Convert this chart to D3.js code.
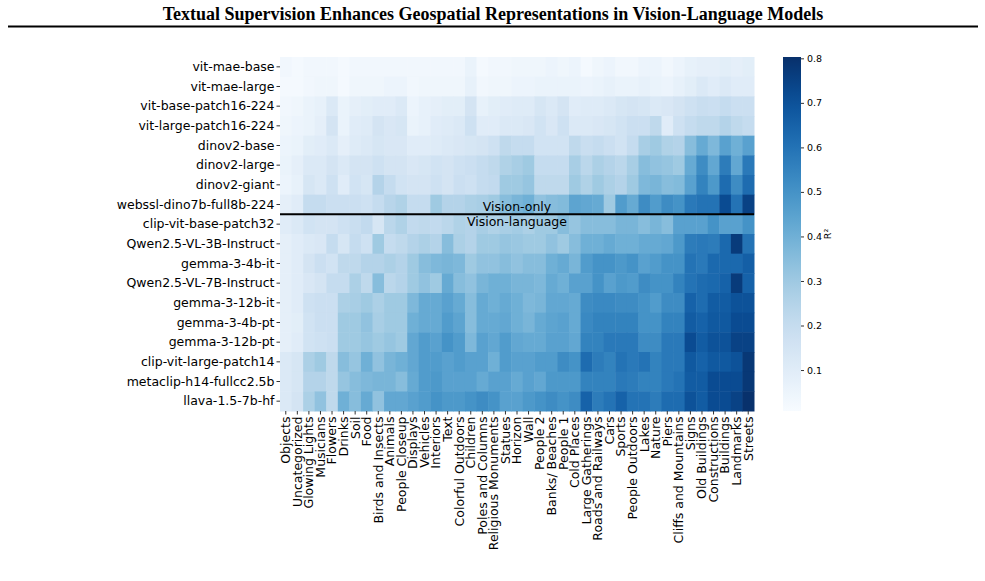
<!DOCTYPE html>
<html>
<head>
<meta charset="utf-8">
<script src="https://cdn.jsdelivr.net/npm/d3@7"></script>
<style>
  body { margin: 0; background: #fff; }
  text { font-family: "DejaVu Sans", sans-serif; }
</style>
</head>
<body>
<script>
// models (rows) and scene categories (columns)
const models = ["vit-mae-base", "vit-mae-large", "vit-base-patch16-224", "vit-large-patch16-224",
  "dinov2-base", "dinov2-large", "dinov2-giant", "webssl-dino7b-full8b-224",
  "clip-vit-base-patch32", "Qwen2.5-VL-3B-Instruct", "gemma-3-4b-it", "Qwen2.5-VL-7B-Instruct",
  "gemma-3-12b-it", "gemma-3-4b-pt", "gemma-3-12b-pt", "clip-vit-large-patch14",
  "metaclip-h14-fullcc2.5b", "llava-1.5-7b-hf"];

const categories = ["Objects", "Uncategorized", "Glowing Lights", "Musicians", "Flowers", "Drinks", "Soil",
  "Food", "Birds and Insects", "Animals", "People Closeup", "Displays", "Vehicles", "Interiors", "Text",
  "Colorful Outdoors", "Children", "Poles and Columns", "Religious Monuments", "Statues", "Horizon", "Wall",
  "People 2", "Banks/ Beaches", "People 1", "Cold Places", "Large Gatherings", "Roads and Railways", "Cars",
  "Sports", "People Outdoors", "Lakes", "Nature", "Piers", "Cliffs and Mountains", "Signs", "Old Buildings",
  "Constructions", "Buildings", "Landmarks", "Streets"];

// R² per model, one value per category
const r2 = [
  [0.03,0.02,0.03,0.03,0.03,0.02,0.03,0.03,0.03,0.03,0.03,0.03,0.03,0.03,0.03,0.03,0.06,0.02,0.03,0.03,0.04,0.04,0.04,0.05,0.04,0.05,0.02,0.04,0.05,0.03,0.03,0.05,0.05,0.03,0.05,0.07,0.08,0.08,0.09,0.08,0.09],
  [0.02,0.02,0.03,0.04,0.04,0.02,0.04,0.04,0.04,0.05,0.05,0.03,0.04,0.04,0.04,0.04,0.07,0.03,0.04,0.04,0.05,0.05,0.06,0.06,0.06,0.06,0.05,0.06,0.07,0.06,0.06,0.07,0.06,0.05,0.07,0.09,0.12,0.1,0.12,0.1,0.1],
  [0.03,0.04,0.06,0.07,0.12,0.06,0.08,0.09,0.1,0.1,0.12,0.05,0.07,0.08,0.09,0.09,0.15,0.07,0.09,0.1,0.11,0.11,0.14,0.12,0.15,0.1,0.11,0.11,0.12,0.14,0.15,0.14,0.12,0.13,0.15,0.17,0.19,0.18,0.2,0.18,0.18],
  [0.04,0.05,0.06,0.08,0.15,0.06,0.1,0.11,0.15,0.13,0.14,0.06,0.07,0.1,0.11,0.12,0.17,0.1,0.1,0.12,0.12,0.13,0.16,0.13,0.17,0.12,0.12,0.13,0.14,0.16,0.18,0.18,0.22,0.1,0.17,0.2,0.22,0.22,0.25,0.22,0.2],
  [0.05,0.06,0.09,0.1,0.12,0.08,0.11,0.12,0.14,0.13,0.13,0.1,0.1,0.11,0.12,0.13,0.14,0.15,0.17,0.22,0.2,0.2,0.16,0.16,0.16,0.22,0.19,0.2,0.18,0.16,0.2,0.28,0.3,0.26,0.25,0.35,0.42,0.37,0.45,0.4,0.45],
  [0.06,0.08,0.12,0.12,0.15,0.12,0.15,0.15,0.17,0.15,0.15,0.13,0.14,0.16,0.15,0.17,0.18,0.2,0.22,0.26,0.28,0.3,0.2,0.2,0.2,0.28,0.23,0.27,0.25,0.23,0.28,0.35,0.33,0.32,0.3,0.42,0.52,0.43,0.57,0.43,0.58],
  [0.05,0.07,0.14,0.12,0.17,0.1,0.16,0.14,0.25,0.2,0.16,0.15,0.15,0.17,0.15,0.18,0.17,0.2,0.21,0.3,0.3,0.32,0.22,0.22,0.22,0.3,0.26,0.3,0.27,0.25,0.3,0.37,0.38,0.35,0.36,0.45,0.55,0.48,0.62,0.52,0.62],
  [0.08,0.1,0.2,0.2,0.18,0.18,0.18,0.17,0.2,0.24,0.26,0.2,0.2,0.3,0.25,0.25,0.27,0.28,0.3,0.35,0.38,0.4,0.33,0.35,0.36,0.44,0.43,0.42,0.3,0.47,0.42,0.52,0.47,0.52,0.5,0.58,0.6,0.6,0.72,0.6,0.75],
  [0.1,0.12,0.16,0.15,0.15,0.17,0.19,0.21,0.14,0.23,0.26,0.21,0.22,0.21,0.23,0.26,0.25,0.28,0.26,0.28,0.29,0.27,0.3,0.3,0.35,0.32,0.35,0.35,0.35,0.38,0.38,0.35,0.38,0.35,0.45,0.45,0.45,0.5,0.45,0.45,0.5],
  [0.08,0.1,0.12,0.13,0.2,0.14,0.2,0.17,0.3,0.2,0.22,0.25,0.27,0.25,0.35,0.27,0.25,0.3,0.3,0.32,0.31,0.3,0.3,0.33,0.3,0.35,0.4,0.4,0.42,0.4,0.4,0.42,0.42,0.43,0.48,0.57,0.58,0.57,0.63,0.77,0.6],
  [0.08,0.1,0.15,0.18,0.16,0.22,0.22,0.25,0.25,0.27,0.25,0.3,0.35,0.37,0.38,0.37,0.3,0.33,0.33,0.35,0.33,0.35,0.35,0.4,0.42,0.38,0.47,0.5,0.5,0.48,0.5,0.45,0.47,0.5,0.5,0.6,0.58,0.63,0.63,0.63,0.66],
  [0.08,0.1,0.13,0.15,0.2,0.2,0.27,0.22,0.35,0.23,0.25,0.3,0.33,0.3,0.42,0.35,0.33,0.38,0.4,0.4,0.38,0.38,0.37,0.42,0.4,0.45,0.45,0.5,0.45,0.48,0.47,0.52,0.5,0.5,0.55,0.6,0.62,0.63,0.65,0.77,0.65],
  [0.08,0.1,0.17,0.18,0.18,0.27,0.28,0.3,0.27,0.3,0.3,0.37,0.42,0.42,0.45,0.42,0.35,0.42,0.4,0.42,0.4,0.37,0.38,0.43,0.43,0.42,0.52,0.53,0.53,0.52,0.52,0.5,0.47,0.52,0.52,0.65,0.62,0.67,0.67,0.7,0.7],
  [0.08,0.09,0.16,0.18,0.18,0.3,0.3,0.33,0.28,0.3,0.3,0.4,0.42,0.42,0.47,0.44,0.35,0.42,0.42,0.43,0.4,0.38,0.42,0.44,0.45,0.42,0.53,0.55,0.55,0.55,0.55,0.5,0.5,0.55,0.55,0.67,0.65,0.68,0.68,0.72,0.72],
  [0.08,0.1,0.16,0.17,0.18,0.3,0.3,0.32,0.3,0.32,0.3,0.43,0.47,0.45,0.5,0.47,0.37,0.45,0.43,0.47,0.43,0.42,0.42,0.45,0.45,0.43,0.55,0.55,0.58,0.58,0.58,0.52,0.52,0.58,0.58,0.72,0.67,0.7,0.7,0.75,0.75],
  [0.12,0.14,0.27,0.3,0.22,0.35,0.32,0.4,0.33,0.38,0.4,0.43,0.47,0.47,0.45,0.47,0.45,0.45,0.4,0.47,0.45,0.45,0.47,0.47,0.52,0.5,0.62,0.57,0.55,0.6,0.58,0.6,0.55,0.58,0.58,0.68,0.65,0.68,0.68,0.7,0.78],
  [0.12,0.14,0.25,0.25,0.22,0.32,0.35,0.37,0.38,0.38,0.35,0.42,0.47,0.48,0.45,0.45,0.45,0.42,0.45,0.45,0.42,0.45,0.43,0.48,0.48,0.48,0.55,0.55,0.55,0.58,0.57,0.55,0.55,0.58,0.6,0.67,0.67,0.72,0.72,0.72,0.78],
  [0.12,0.15,0.27,0.33,0.22,0.4,0.35,0.42,0.33,0.43,0.43,0.45,0.47,0.5,0.48,0.48,0.5,0.52,0.5,0.45,0.45,0.48,0.5,0.52,0.5,0.52,0.65,0.57,0.6,0.65,0.6,0.6,0.57,0.62,0.62,0.7,0.67,0.72,0.72,0.75,0.8]
];

const colorbarTicks = [0.1, 0.2, 0.3, 0.4, 0.5, 0.6, 0.7, 0.8];
const vmin = 0.008, vmax = 0.803;
const splitAfter = "webssl-dino7b-full8b-224";   // vision-only above, vision-language below

const W = 985, H = 581;
const plot = {left: 280, top: 57, width: 474, height: 354};

const svg = d3.select("body").append("svg")
    .attr("width", W)
    .attr("height", H);

// title + rule
svg.append("text")
    .attr("x", 493)
    .attr("y", 20)
    .attr("text-anchor", "middle")
    .style("font-family", "'Liberation Serif', 'Times New Roman', serif")
    .style("font-weight", "bold")
    .style("font-size", "18px")
    .text("Textual Supervision Enhances Geospatial Representations in Vision-Language Models");

svg.append("line")
    .attr("x1", 8).attr("x2", 978)
    .attr("y1", 26.5).attr("y2", 26.5)
    .attr("stroke", "#000")
    .attr("stroke-width", 2);

const g = svg.append("g")
    .attr("transform", `translate(${plot.left},${plot.top})`);

const x = d3.scaleBand().domain(categories).range([0, plot.width]);
const y = d3.scaleBand().domain(models).range([0, plot.height]);
const color = d3.scaleSequential(d3.interpolateBlues).domain([vmin, vmax]);

const cells = [];
models.forEach((m, i) => categories.forEach((c, j) => cells.push({m, c, v: r2[i][j]})));

g.selectAll("rect.cell")
    .data(cells)
    .join("rect")
    .attr("class", "cell")
    .attr("x", d => x(d.c))
    .attr("y", d => y(d.m))
    .attr("width", x.bandwidth() + 0.5)
    .attr("height", y.bandwidth() + 0.5)
    .attr("fill", d => color(d.v));

// axes
const yAxis = g.append("g").call(d3.axisLeft(y).tickSize(3.5).tickPadding(2));
yAxis.select(".domain").remove();
yAxis.selectAll("text").style("font-size", "12.5px").attr("fill", "#000");
yAxis.selectAll("line").attr("stroke", "#333");

const xAxis = g.append("g")
    .attr("transform", `translate(0,${plot.height})`)
    .call(d3.axisBottom(x).tickSize(3.5).tickPadding(2));
xAxis.select(".domain").remove();
xAxis.selectAll("line").attr("stroke", "#333");
xAxis.selectAll("text")
    .style("font-size", "12.5px")
    .attr("fill", "#000")
    .attr("text-anchor", "end")
    .attr("dy", "0.35em")
    .attr("transform", "translate(0,5.5) rotate(-90)")
    .attr("x", 0)
    .attr("y", 0);

// separator between vision-only and vision-language models
const ySplit = y(splitAfter) + y.bandwidth();
g.append("line")
    .attr("x1", 0).attr("x2", plot.width)
    .attr("y1", ySplit).attr("y2", ySplit)
    .attr("stroke", "#000")
    .attr("stroke-width", 2);

g.append("text")
    .attr("x", plot.width / 2)
    .attr("y", ySplit - 3)
    .attr("text-anchor", "middle")
    .style("font-size", "12.5px")
    .text("Vision-only");

g.append("text")
    .attr("x", plot.width / 2)
    .attr("y", ySplit + 12)
    .attr("text-anchor", "middle")
    .style("font-size", "12.5px")
    .text("Vision-language");

// colorbar
const cb = {x: 783, width: 18};
const defs = svg.append("defs");
const grad = defs.append("linearGradient")
    .attr("id", "cbgrad")
    .attr("x1", 0).attr("x2", 0).attr("y1", 1).attr("y2", 0);
d3.range(0, 1.0001, 0.05).forEach(t => {
    grad.append("stop")
        .attr("offset", t)
        .attr("stop-color", color(vmin + t * (vmax - vmin)));
});

svg.append("rect")
    .attr("x", cb.x)
    .attr("y", plot.top)
    .attr("width", cb.width)
    .attr("height", plot.height)
    .attr("fill", "url(#cbgrad)");

const cy = d3.scaleLinear().domain([vmin, vmax]).range([plot.top + plot.height, plot.top]);
const cbAxis = svg.append("g")
    .attr("transform", `translate(${cb.x + cb.width},0)`)
    .call(d3.axisRight(cy).tickValues(colorbarTicks).tickFormat(d3.format(".1f")).tickSize(3).tickPadding(3));
cbAxis.select(".domain").remove();
cbAxis.selectAll("text").style("font-size", "9.5px").attr("fill", "#000");
cbAxis.selectAll("line").attr("stroke", "#333");

svg.append("text")
    .attr("transform", `translate(831,${plot.top + plot.height / 2}) rotate(-90)`)
    .attr("text-anchor", "middle")
    .style("font-size", "9.5px")
    .text("R²");
</script>
</body>
</html>
